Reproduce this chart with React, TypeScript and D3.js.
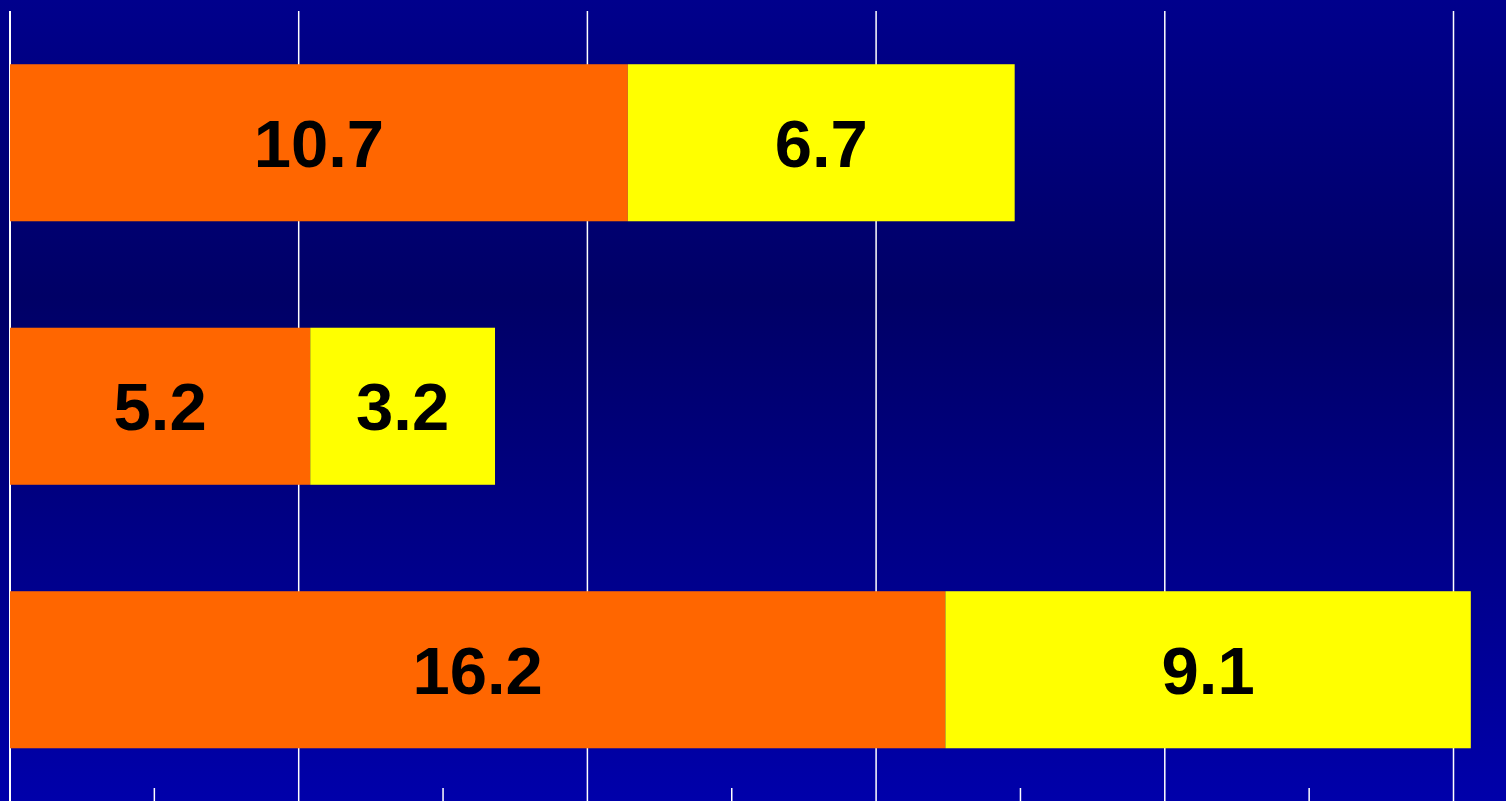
import React, { useEffect, useRef } from 'react';
import * as d3 from 'd3';

const categories = ['Group 1', 'Group 2', 'Group 3'];
const seriesNames = ['First', 'Second'];
const firstValues = [10.7, 5.2, 16.2];
const secondValues = [6.7, 3.2, 9.1];
const seriesColors = ['#FF6600', '#FFFF00'];
const majorTicks = [0, 5, 10, 15, 20, 25];
const minorTicks = [2.5, 7.5, 12.5, 17.5, 22.5];

function App() {
  const ref = useRef<SVGSVGElement | null>(null);

  useEffect(() => {
    drawChart();
  }, []);

  function drawChart() {
    const width = 1506;
    const height = 801;
    const plotTop = 11;
    const plotBottom = 801.5;

    const rows = categories.map((c, i) => ({
      head: c,
      First: firstValues[i],
      Second: secondValues[i],
    }));

    const svg = d3.select(ref.current);
    svg.selectAll('*').remove();

    // background gradient
    const defs = svg.append('defs');
    const grad = defs
      .append('linearGradient')
      .attr('id', 'bg')
      .attr('x1', 0)
      .attr('y1', 0)
      .attr('x2', 0)
      .attr('y2', 1);
    grad.append('stop').attr('offset', '0%').attr('stop-color', '#00008C');
    grad.append('stop').attr('offset', '37%').attr('stop-color', '#000066');
    grad.append('stop').attr('offset', '100%').attr('stop-color', '#0000AA');

    svg
      .append('rect')
      .attr('width', width)
      .attr('height', height)
      .attr('fill', 'url(#bg)');

    const xScale = d3.scaleLinear().domain([0, 25]).range([10, 1453.5]);

    const yScale = d3
      .scaleBand()
      .domain(categories)
      .range([plotTop, plotBottom])
      .paddingInner(0.404)
      .paddingOuter(0.202);

    // gridlines
    svg
      .append('g')
      .selectAll('line')
      .data(majorTicks.slice(1))
      .enter()
      .append('line')
      .attr('x1', (d) => xScale(d))
      .attr('x2', (d) => xScale(d))
      .attr('y1', plotTop)
      .attr('y2', height)
      .attr('stroke', '#ffffff')
      .attr('stroke-width', 1.5);

    // left axis line
    svg
      .append('line')
      .attr('x1', xScale(0))
      .attr('x2', xScale(0))
      .attr('y1', plotTop)
      .attr('y2', height)
      .attr('stroke', '#ffffff')
      .attr('stroke-width', 2);

    // minor tick marks at the bottom
    svg
      .append('g')
      .selectAll('line')
      .data(minorTicks)
      .enter()
      .append('line')
      .attr('x1', (d) => xScale(d))
      .attr('x2', (d) => xScale(d))
      .attr('y1', 788)
      .attr('y2', height)
      .attr('stroke', '#ffffff')
      .attr('stroke-width', 1.5);

    const stacked = d3.stack<any>().keys(seriesNames)(rows);

    const layers = svg
      .append('g')
      .selectAll('g')
      .data(stacked)
      .enter()
      .append('g')
      .attr('fill', (d, i) => seriesColors[i]);

    layers
      .selectAll('rect')
      .data((d) => d)
      .enter()
      .append('rect')
      .attr('x', (d) => xScale(d[0]))
      .attr('y', (d) => yScale(d.data.head) as number)
      .attr('width', (d) => xScale(d[1]) - xScale(d[0]))
      .attr('height', yScale.bandwidth());

    const fontSize = 67;
    layers
      .selectAll('text')
      .data((d) => d.map((p) => ({ p, key: d.key })))
      .enter()
      .append('text')
      .text((d) => d.p.data[d.key].toFixed(1))
      .attr('x', (d) => (xScale(d.p[0]) + xScale(d.p[1])) / 2)
      .attr('y', (d) => (yScale(d.p.data.head) as number) + yScale.bandwidth() / 2 + fontSize * 0.36)
      .attr('text-anchor', 'middle')
      .attr('fill', '#000000')
      .style('font-family', '"Liberation Sans", Arial, sans-serif')
      .style('font-weight', 'bold')
      .style('font-size', fontSize + 'px');
  }

  return (
    <svg
      ref={ref}
      width={1506}
      height={801}
      style={{ position: 'absolute', left: 0, top: 0, display: 'block' }}
    />
  );
}

export default App;
